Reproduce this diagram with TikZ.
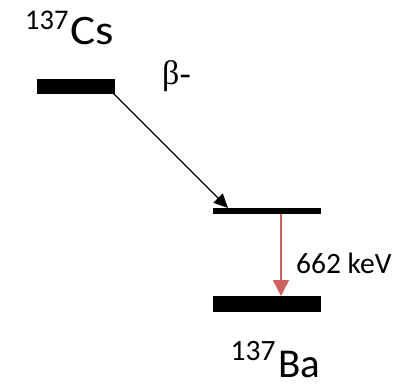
\documentclass[tikz,border=0pt]{standalone}
\usepackage{fontspec}
\setmainfont{Carlito}
\newfontfamily\serifb{Liberation Serif}
\usetikzlibrary{arrows.meta,calc}
\definecolor{gammared}{RGB}{208,98,94}
\begin{document}
\begin{tikzpicture}[x=1pt,y=-1pt,
  level/.style={fill=black,draw=none,inner sep=0pt,anchor=north west},
  lbl/.style={inner sep=0pt,anchor=base west},
  betaarrow/.style={line width=1.2pt,-{Triangle[length=14pt,width=13pt]}},
  gammaarrow/.style={gammared,line width=1.4pt,-{Triangle[length=16pt,width=16pt]}}]
\useasboundingbox (0,0) rectangle (409,383);
% levels
\node[level,minimum width=78pt,minimum height=15pt] (cs) at (37,79) {};
\node[level,minimum width=108pt,minimum height=6pt] (ba1) at (213,208) {};
\node[level,minimum width=108pt,minimum height=16pt] (ba0) at (213,296) {};
% labels
\node[lbl] (cslbl) at (25,44) {\raisebox{15pt}{\fontsize{28.5}{28.5}\selectfont 137}\kern2pt\scalebox{1.12}[1]{\fontsize{42}{42}\selectfont Cs}};
\node[lbl] (balbl) at (230.5,377.5) {\raisebox{17pt}{\fontsize{29.5}{29.5}\selectfont 137}\kern3pt\fontsize{41}{41}\selectfont Ba};
\node[lbl] (beta) at (162,84) {\serifb\fontsize{34}{34}\selectfont β-};
\node[lbl] (energy) at (296,273) {\fontsize{29.5}{29.5}\selectfont 662 keV};
% transitions
\coordinate (bstart) at ($(cs.south east)+(-2,-1)$);
\coordinate (bend) at ($(ba1.north west)+(15,0)$);
\draw[betaarrow] (bstart) -- (bend);
\coordinate (gstart) at ($(ba1.south west)+(68,0)$);
\coordinate (gend) at ($(ba0.north west)+(68,0)$);
\draw[gammaarrow] (gstart) -- (gend);
\end{tikzpicture}
\end{document}
